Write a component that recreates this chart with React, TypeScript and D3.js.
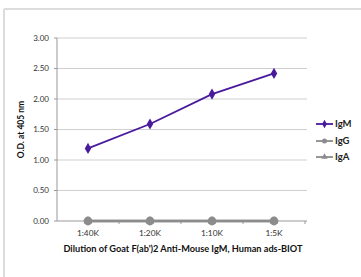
import React from "react";
import * as d3 from "d3";

const categories = ["1:40K", "1:20K", "1:10K", "1:5K"];
const igM = [1.19, 1.59, 2.08, 2.42];
const igG = [0.0, 0.0, 0.0, 0.0];
const igA = [0.0, 0.0, 0.0, 0.0];
const yTicks = [0, 0.5, 1.0, 1.5, 2.0, 2.5, 3.0];
const seriesNames = ["IgM", "IgG", "IgA"];
const xTitle = "Dilution of Goat F(ab')2 Anti-Mouse IgM, Human ads-BIOT";
const yTitle = "O.D. at 405 nm";

const W = 361;
const H = 277;
const left = 57;
const right = 305;
const top = 38;
const bottom = 221;
const purple = "#4a1a9c";
const gray = "#8c8c8c";
const font = "Lato, 'Open Sans', sans-serif";

export default function App() {
  const x = d3.scaleBand<string>().domain(categories).range([left, right]);
  const y = d3.scaleLinear().domain([0, 3]).range([bottom, top]);
  const cx = (c: string) => (x(c) as number) + x.bandwidth() / 2;
  const line = d3
    .line<number>()
    .x((_, i) => cx(categories[i]))
    .y((d) => y(d));
  const diamond = d3.symbol(d3.symbolDiamond, 36)() as string;
  const tri = d3.symbol(d3.symbolTriangle, 30)() as string;
  const legendY = [124, 141, 157];
  const colors = [purple, gray, gray];

  return (
    <svg
      width={W}
      height={H}
      style={{ position: "absolute", left: 0, top: 0, background: "#fff" }}
      fontFamily={font}
    >
      <rect x={0} y={0} width={W} height={H} fill="#fff" />
      <line x1={4} y1={9} x2={W} y2={9} stroke="#dcdcdc" strokeWidth={2} />
      <line x1={4} y1={9} x2={4} y2={H} stroke="#dcdcdc" strokeWidth={2} />
      {yTicks.map((t) => (
        <g key={t}>
          {t > 0 && (
            <line x1={left} x2={307} y1={y(t)} y2={y(t)} stroke="#cfcfcf" strokeWidth={1.2} />
          )}
          <line x1={left - 3} x2={left} y1={y(t)} y2={y(t)} stroke="#999" />
          <text x={49} y={y(t)} dy="0.35em" textAnchor="end" fontSize={8} fill="#333">
            {t.toFixed(2)}
          </text>
        </g>
      ))}
      <line x1={left} x2={left} y1={top} y2={bottom} stroke="#999" />
      <line x1={left} x2={307} y1={bottom} y2={bottom} stroke="#999" />
      {categories.map((c, i) => (
        <g key={c}>
          <line
            x1={(x(c) as number) + x.bandwidth()}
            x2={(x(c) as number) + x.bandwidth()}
            y1={bottom}
            y2={bottom + 3}
            stroke="#999"
          />
          <text x={cx(c)} y={233} dy="0.35em" textAnchor="middle" fontSize={8.3} fill="#333">
            {c}
          </text>
        </g>
      ))}
      <text
        transform={`translate(21,${(top + bottom) / 2}) rotate(-90)`}
        textAnchor="middle"
        dy="0.35em"
        fontSize={8.5}
        fontWeight="bold"
        fill="#111"
      >
        {yTitle}
      </text>
      <text x={183} y={249} dy="0.35em" textAnchor="middle" fontSize={9.2} fontWeight="bold" fill="#111">
        {xTitle}
      </text>

      {/* IgA */}
      <path d={line(igA) as string} fill="none" stroke={gray} strokeWidth={2.6} />
      {igA.map((v, i) => (
        <path key={i} d={tri} transform={`translate(${cx(categories[i])},${y(v)})`} fill={gray} />
      ))}
      {/* IgG */}
      <path d={line(igG) as string} fill="none" stroke={gray} strokeWidth={2.6} />
      {igG.map((v, i) => (
        <circle key={i} cx={cx(categories[i])} cy={y(v)} r={4.4} fill={gray} />
      ))}
      {/* IgM */}
      <path d={line(igM) as string} fill="none" stroke={purple} strokeWidth={1.8} />
      {igM.map((v, i) => (
        <path key={i} d={diamond} transform={`translate(${cx(categories[i])},${y(v)})`} fill={purple} />
      ))}

      {seriesNames.map((s, i) => (
        <g key={s}>
          <line x1={316} x2={333} y1={legendY[i]} y2={legendY[i]} stroke={colors[i]} strokeWidth={1.8} />
          {i === 0 && (
            <path d={d3.symbol(d3.symbolDiamond, 20)() as string} transform={`translate(324.5,${legendY[i]})`} fill={colors[i]} />
          )}
          {i === 1 && <circle cx={324.5} cy={legendY[i]} r={2.5} fill={colors[i]} />}
          {i === 2 && (
            <path d={d3.symbol(d3.symbolTriangle, 18)() as string} transform={`translate(324.5,${legendY[i]})`} fill={colors[i]} />
          )}
          <text x={335} y={legendY[i]} dy="0.35em" fontSize={9.5} fontWeight="bold" fill="#222">
            {s}
          </text>
        </g>
      ))}
    </svg>
  );
}
